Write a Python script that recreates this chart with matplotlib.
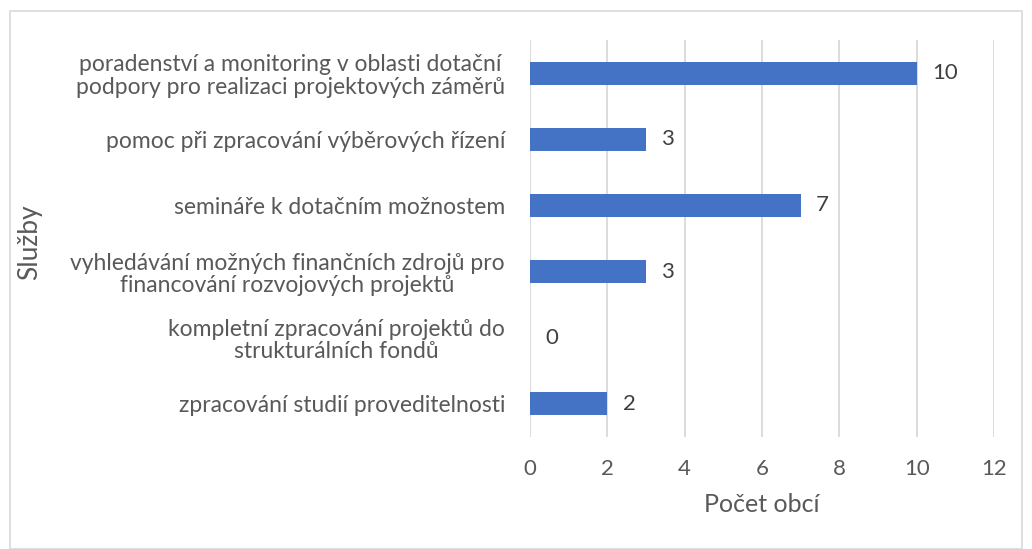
import matplotlib.pyplot as plt
from matplotlib.patches import Rectangle

# data (top to bottom as in the chart)
categories = [
    "poradenství a monitoring v oblasti dotační\npodpory pro realizaci projektových záměrů",
    "pomoc při zpracování výběrových řízení",
    "semináře k dotačním možnostem",
    "vyhledávání možných finančních zdrojů pro\nfinancování rozvojových projektů",
    "kompletní zpracování projektů do\nstrukturálních fondů",
    "zpracování studií proveditelnosti",
]
values = [10, 3, 7, 3, 0, 2]
x_ticks = [0, 2, 4, 6, 8, 10, 12]

text_color = "#595959"
bar_color = "#4472C4"
grid_color = "#D9D9D9"
plt.rcParams['font.family'] = ['Lato', 'DejaVu Sans']

W, H = 1032, 549
fig = plt.figure(figsize=(W / 100, H / 100), dpi=100)

# outer chart border like Excel
fig.patches.append(Rectangle((10 / W, 0), (W - 20) / W, (H - 11) / H,
                             transform=fig.transFigure, fill=False,
                             edgecolor="#D9D9D9", linewidth=1.2))

# plot area in pixels: left 530, right 994, top 40, bottom 437
ax = fig.add_axes([530 / W, 1 - 437 / H, (994 - 530) / W, (437 - 40) / H])

pos = list(range(len(categories)))[::-1]
ax.barh(pos, values, height=0.35, color=bar_color, zorder=3)

for p, v in zip(pos, values):
    ax.annotate(str(v), (v, p), xytext=(11, 0), textcoords="offset points",
                ha="left", va="center", fontsize=16, color="#404040")

ax.set_xlim(0, 12)
ax.set_ylim(-0.5, len(categories) - 0.5)
ax.set_xticks(x_ticks)
ax.set_xticklabels([str(t) for t in x_ticks])
ax.set_yticks(pos)
ax.set_yticklabels(categories, multialignment="center", linespacing=1.1)
ax.tick_params(axis="x", length=0, pad=16, labelsize=16, labelcolor=text_color)
ax.tick_params(axis="y", length=0, pad=18, labelsize=16.5, labelcolor=text_color)

ax.grid(axis="x", color=grid_color, linewidth=1.3, zorder=0)
for s in ax.spines.values():
    s.set_visible(False)

ax.set_xlabel("Počet obcí", fontsize=18, color=text_color, labelpad=10)
fig.text(30 / W, 1 - 242 / H, "Služby", rotation=90, ha="center", va="center",
         fontsize=19, color=text_color)

fig.savefig("out.png", dpi=100)
